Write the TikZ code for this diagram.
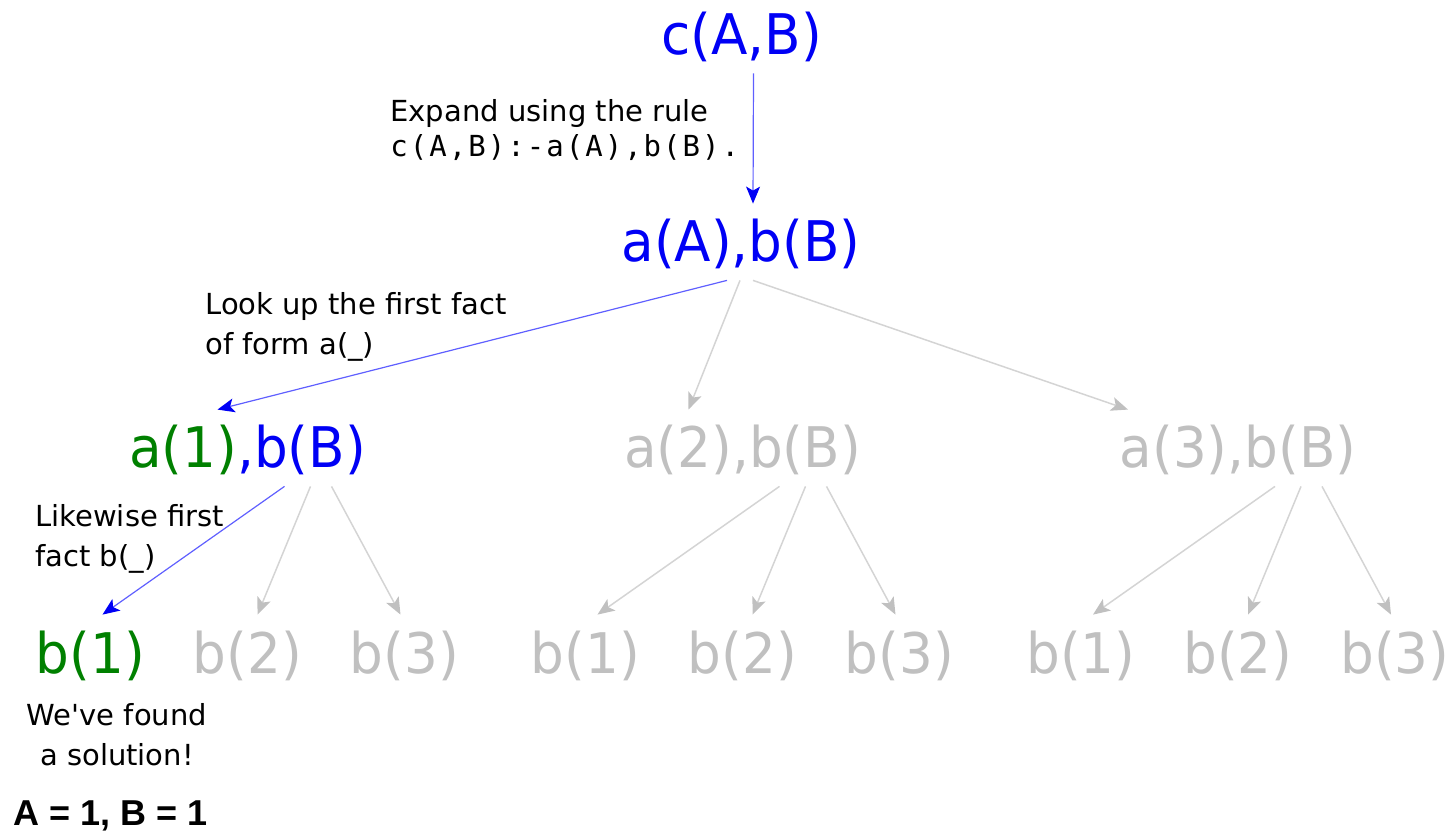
\documentclass[tikz,border=0pt]{standalone}
\usepackage{fontspec}
\setmainfont{DejaVu Sans}
\setmonofont{DejaVu Sans Mono}[LetterSpace=7]
\newfontfamily\termfont{DejaVu Sans}[FakeStretch=0.95]
\newfontfamily\answerfont{Liberation Sans}
\usepackage{tikz}
\usetikzlibrary{arrows.meta}
\definecolor{goalblue}{RGB}{0,0,245}
\definecolor{factgreen}{RGB}{0,128,0}
\definecolor{fadedtext}{RGB}{192,192,192}
\definecolor{fadedline}{RGB}{212,212,212}
\definecolor{lineblue}{RGB}{95,95,255}
\tikzset{
  term/.style={
    anchor=base,
    inner sep=0pt,
    text height=29pt,
    text depth=9pt,
    font=\termfont\fontsize{28}{33}\selectfont
  },
  live/.style={term, text=goalblue},
  dead/.style={term, text=fadedtext},
  found/.style={term, text=factgreen},
  note/.style={
    anchor=base west,
    inner sep=0pt,
    align=left,
    font=\fontsize{14.5}{20}\selectfont
  },
  chosen/.style={draw=lineblue, line width=0.6pt,
    -{Stealth[length=8.5pt, width=7pt, inset=2pt, color=goalblue]}},
  skipped/.style={draw=fadedline, line width=0.75pt,
    -{Stealth[length=8.5pt, width=7pt, inset=2pt, color=fadedtext]}}
}
\begin{document}
\begin{tikzpicture}[x=0.5pt, y=-0.5pt]
  \useasboundingbox (0,0) rectangle (1456,833);

  % goals
  \node[live] (goal) at (741.5,55) {c(A,B)};
  \node[live] (conj) at (741,262) {a(A),b(B)};
  \node[live] (alt1) at (247.5,468) {\textcolor{factgreen}{a(1)},b(B)};
  \node[dead] (alt2) at (742.5,468) {a(2),b(B)};
  \node[dead] (alt3) at (1238,468) {a(3),b(B)};

  % leaves
  \foreach \i/\x/\st in {1/247.5/found, 2/742.5/dead, 3/1238/dead} {
    \node[\st] (leaf\i1) at (\x-157,673) {b(1)};
    \node[dead] (leaf\i2) at (\x,673) {b(2)};
    \node[dead] (leaf\i3) at (\x+157,673) {b(3)};
  }

  % notes (base = last line)
  \node[note] (ruleNote) at (390,157) {Expand using the rule\\[-2.5pt]\texttt{c(A,B):-a(A),b(B).}};
  \node[note] (lookNote) at (205,355) {Look up the first fact\\of form a(\_)};
  \node[note] (likeNote) at (35,567) {Likewise first\\fact b(\_)};
  \node[note, anchor=base, align=center] (foundNote) at (117,765) {We\textquotesingle ve found\\a solution!};
  \node[anchor=base west, inner sep=0pt, font=\answerfont\bfseries\fontsize{18}{22}\selectfont] (answer) at (13,825) {A = 1, B = 1};

  % connectors
  \draw[chosen] ([xshift=6pt]goal.south) -- ([xshift=6pt]conj.north);
  \draw[chosen] ([xshift=-7pt]conj.south) -- ([xshift=-15pt]alt1.north);
  \draw[skipped] ([xshift=-0.5pt]conj.south) -- ([xshift=-27pt]alt2.north);
  \draw[skipped] ([xshift=6pt]conj.south) -- ([xshift=-55pt]alt3.north);
  \foreach \i/\st in {1/chosen, 2/skipped, 3/skipped} {
    \draw[\st] ([xshift=18.5pt]alt\i.south) -- ([xshift=6pt]leaf\i1.north);
    \draw[skipped] ([xshift=31.5pt]alt\i.south) -- ([xshift=5pt]leaf\i2.north);
    \draw[skipped] ([xshift=42pt]alt\i.south) -- ([xshift=-2pt]leaf\i3.north);
  }
\end{tikzpicture}
\end{document}
